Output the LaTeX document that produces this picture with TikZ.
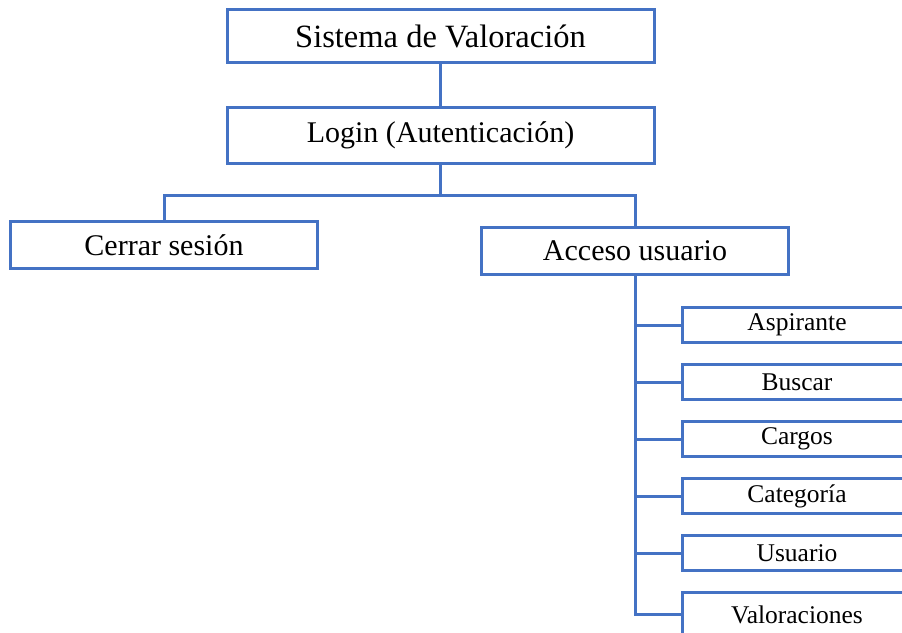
\documentclass[tikz,border=0pt]{standalone}
\usepackage{fontspec}
\setmainfont{Liberation Serif}
\usetikzlibrary{positioning}
\definecolor{wordblue}{RGB}{68,114,196}
\tikzset{
  menubox/.style = {draw=wordblue, line width=3pt, fill=white, inner sep=0pt,
    text centered},
  mainbox/.style = {menubox, minimum width=427pt, minimum height=53pt},
  optbox/.style = {menubox, minimum width=307pt, minimum height=47pt,
    font=\fontsize{30}{36}\selectfont},
  subbox/.style = {menubox, minimum width=230pt, minimum height=35pt,
    font=\fontsize{25.5}{30}\selectfont},
  conn/.style = {draw=wordblue, line width=3pt}
}

\begin{document}
\begin{tikzpicture}[x=1pt,y=-1pt,node distance=19pt]

\clip (0,0) rectangle (902,632);
\fill[white] (0,0) rectangle (902,632);

\node[mainbox, font=\fontsize{32.5}{38}\selectfont] (sistema) at (440.5,36) {Sistema de Valoración};
\node[mainbox, minimum height=56pt, font=\fontsize{30}{36}\selectfont] (login) at (440.5,135) {Login (Autenticación)};

\node[optbox] (cerrar) at (164,245) {Cerrar sesión};
\node[optbox] (acceso) at (635,251) {Acceso usuario};

% opciones del usuario
\node[subbox] (aspirante) at (797,325) {Aspirante};
\node[subbox, below=of aspirante] (buscar) {Buscar};
\node[subbox, below=of buscar] (cargos) {Cargos};
\node[subbox, below=of cargos] (categoria) {Categoría};
\node[subbox, below=of categoria] (usuario) {Usuario};
\node[subbox, minimum height=44pt, below=of usuario] (valoraciones) {Valoraciones};

\draw[conn] (sistema) -- (login);
\draw[conn] (login.south) -- ++(0,31) -| (cerrar.north);
\draw[conn] (login.south) -- ++(0,31) -| (acceso.north);

\draw[conn] (acceso.south) |- (aspirante.west);
\draw[conn] (acceso.south) |- (buscar.west);
\draw[conn] (acceso.south) |- (cargos.west);
\draw[conn] (acceso.south) |- (categoria.west);
\draw[conn] (acceso.south) |- (usuario.west);
\draw[conn] (acceso.south) |- (valoraciones.west);

\end{tikzpicture}
\end{document}
